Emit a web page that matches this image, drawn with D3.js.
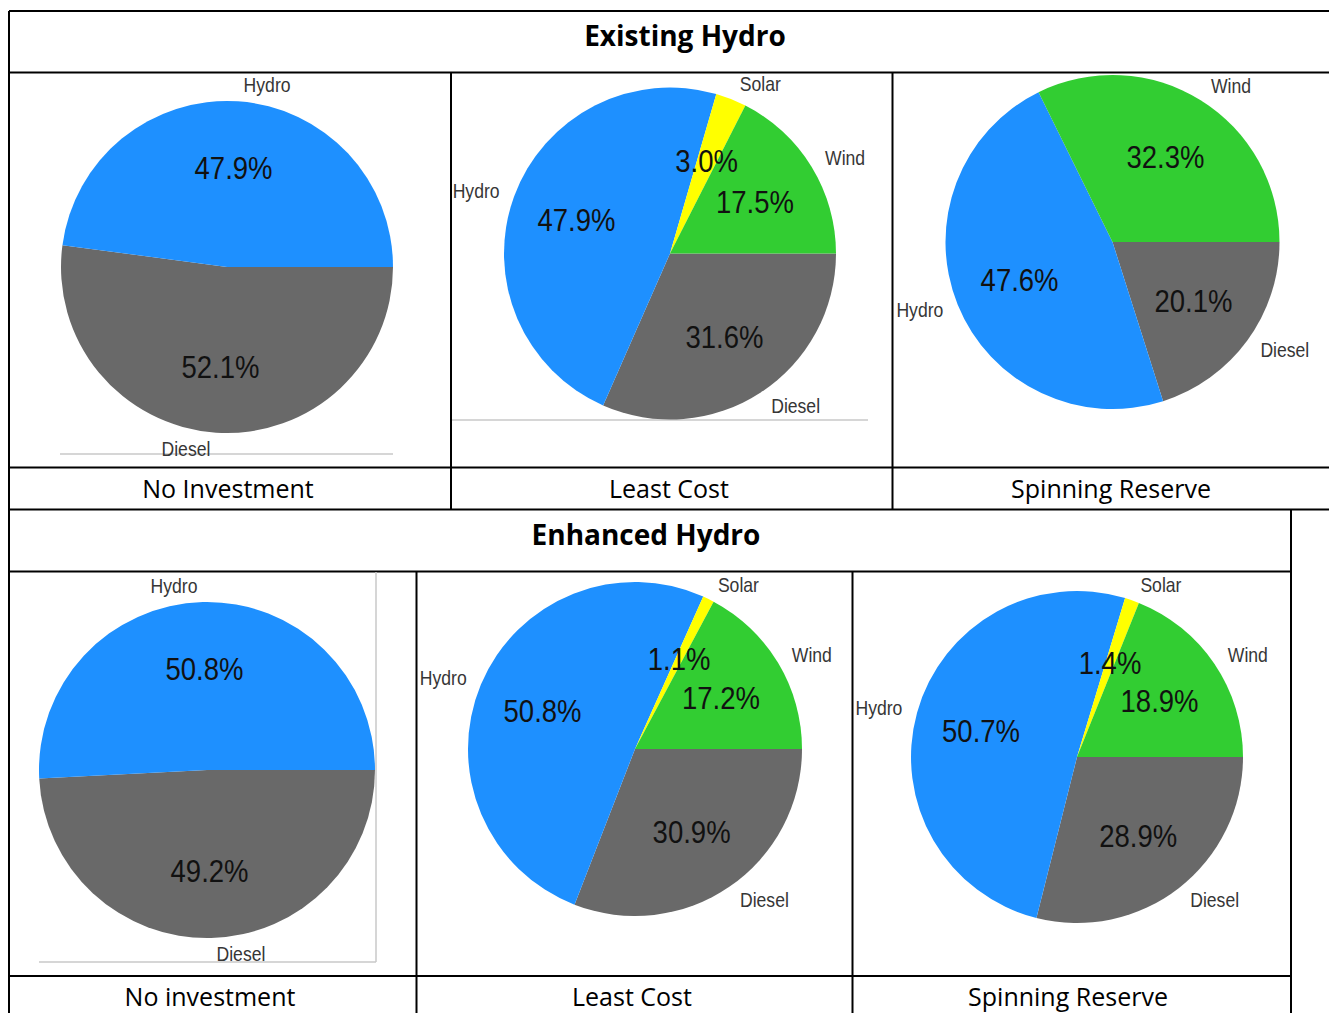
<!DOCTYPE html>
<html>
<head>
<meta charset="utf-8">
<script src="https://cdn.jsdelivr.net/npm/d3@7"></script>
<style>
  body { margin: 0; background: #fff; }
  svg { display: block; }
</style>
</head>
<body>
<svg id="chart" width="1329" height="1013"></svg>
<script>
// Generation mix shares (%), in drawing order starting at 3 o'clock, clockwise
const sources = ["Diesel", "Hydro", "Solar", "Wind"];
const existingNoInvestment = [52.1, 47.9, 0, 0];
const existingLeastCost    = [31.6, 47.9, 3.0, 17.5];
const existingSpinning     = [20.1, 47.6, 0, 32.3];
const enhancedNoInvestment = [49.2, 50.8, 0, 0];
const enhancedLeastCost    = [30.9, 50.8, 1.1, 17.2];
const enhancedSpinning     = [28.9, 50.7, 1.4, 18.9];

const sectionTitles    = ["Existing Hydro", "Enhanced Hydro"];
const captionsExisting = ["No Investment", "Least Cost", "Spinning Reserve"];
const captionsEnhanced = ["No investment", "Least Cost", "Spinning Reserve"];

const color = d3.scaleOrdinal()
  .domain(sources)
  .range(["#696969", "#1E90FF", "#FFFF00", "#32CD32"]);

const svg = d3.select("#chart");
const fmt = d3.format(".1f");

const LABEL_FONT = "'Liberation Sans', Arial, sans-serif";
const TABLE_FONT = "'Open Sans', 'Noto Sans', sans-serif";
const CAT_SCALE = 0.88;

// ---- Table grid -------------------------------------------------------
const grid = svg.append("g").attr("stroke", "#000").attr("stroke-width", 2);
const hLines = [
  [9, 1329, 11], [9, 1329, 72.5], [9, 1329, 467.5], [9, 1329, 509.5],
  [9, 1291, 571.5], [9, 1291, 976]
];
const vLines = [
  [9, 11, 1013], [451, 72.5, 509.5], [892.5, 72.5, 509.5],
  [416.5, 571.5, 1013], [852.5, 571.5, 1013], [1291, 509.5, 1013]
];
grid.selectAll("line.h").data(hLines).join("line").attr("class", "h")
  .attr("x1", d => d[0]).attr("x2", d => d[1]).attr("y1", d => d[2]).attr("y2", d => d[2]);
grid.selectAll("line.v").data(vLines).join("line").attr("class", "v")
  .attr("x1", d => d[0]).attr("x2", d => d[0]).attr("y1", d => d[1]).attr("y2", d => d[2]);

// Section titles
const titlePos = [[685, 35], [646, 534]];
svg.selectAll("text.section").data(sectionTitles).join("text")
  .attr("class", "section")
  .attr("x", (d, i) => titlePos[i][0]).attr("y", (d, i) => titlePos[i][1])
  .attr("text-anchor", "middle").attr("dominant-baseline", "central")
  .style("font-family", TABLE_FONT).style("font-weight", 700).style("font-size", "28px")
  .attr("fill", "#000").text(d => d);

// Scenario captions
const captionX = { top: [228, 669, 1111], bottom: [210, 632, 1068] };
svg.selectAll("text.cap-top").data(captionsExisting).join("text")
  .attr("class", "cap-top")
  .attr("x", (d, i) => captionX.top[i]).attr("y", 488)
  .attr("text-anchor", "middle").attr("dominant-baseline", "central")
  .style("font-family", TABLE_FONT).style("font-size", "25px")
  .attr("fill", "#000").text(d => d);
svg.selectAll("text.cap-bot").data(captionsEnhanced).join("text")
  .attr("class", "cap-bot")
  .attr("x", (d, i) => captionX.bottom[i]).attr("y", 996)
  .attr("text-anchor", "middle").attr("dominant-baseline", "central")
  .style("font-family", TABLE_FONT).style("font-size", "25px")
  .attr("fill", "#000").text(d => d);

// ---- Pie panels -------------------------------------------------------
const panels = [
  { values: existingNoInvestment, cx: 227,    cy: 267,   r: 166 },
  { values: existingLeastCost,    cx: 670,    cy: 253.5, r: 166 },
  { values: existingSpinning,     cx: 1112.5, cy: 242,   r: 167 },
  { values: enhancedNoInvestment, cx: 207,    cy: 770,   r: 168 },
  { values: enhancedLeastCost,    cx: 635,    cy: 749,   r: 167 },
  { values: enhancedSpinning,     cx: 1077,   cy: 757,   r: 166 }
];

// Faint frame edges left over from the embedded chart images
const frame = svg.append("g").attr("stroke", "#c8c8c8").attr("stroke-width", 1.5);
frame.append("line").attr("x1", 60).attr("x2", 393).attr("y1", 454).attr("y2", 454);
frame.append("line").attr("x1", 452).attr("x2", 868).attr("y1", 420).attr("y2", 420);
frame.append("line").attr("x1", 39).attr("x2", 376).attr("y1", 962).attr("y2", 962);
frame.append("line").attr("x1", 376).attr("x2", 376).attr("y1", 572).attr("y2", 962);

const pie = d3.pie()
  .sort(null)
  .value(d => d.value)
  .startAngle(Math.PI / 2)
  .endAngle(Math.PI / 2 + 2 * Math.PI);

panels.forEach(p => {
  const rows = sources.map((s, i) => ({ source: s, value: p.values[i] }))
    .filter(d => d.value > 0);
  const arcs = pie(rows);
  const arc = d3.arc().innerRadius(0).outerRadius(p.r);
  const labelArc = d3.arc().innerRadius(p.r * 0.6).outerRadius(p.r * 0.6);

  const g = svg.append("g").attr("transform", `translate(${p.cx},${p.cy})`);

  g.selectAll("path").data(arcs).join("path")
    .attr("d", arc)
    .attr("fill", d => color(d.data.source));

  // Percentage inside each slice (narrowed to a condensed look)
  g.selectAll("text.pct").data(arcs).join("text")
    .attr("class", "pct")
    .attr("transform", d => `translate(${labelArc.centroid(d)}) scale(0.86,1)`)
    .attr("text-anchor", "middle").attr("dominant-baseline", "central")
    .style("font-family", LABEL_FONT).style("font-size", "32px")
    .attr("fill", "#111")
    .text(d => fmt(d.data.value) + "%");

  // Category name outside the rim: the label box sits beside the point just
  // past the rim, pushed sideways by half its own width.
  g.selectAll("text.cat").data(arcs).join("text")
    .attr("class", "cat")
    .attr("text-anchor", "middle").attr("dominant-baseline", "central")
    .style("font-family", LABEL_FONT).style("font-size", "20px")
    .attr("fill", "#363636")
    .text(d => d.data.source)
    .attr("transform", function (d) {
      const a = (d.startAngle + d.endAngle) / 2;
      const s = Math.sin(a), c = Math.cos(a);
      const w = this.getComputedTextLength() * CAT_SCALE;
      const x = (p.r + 10) * s + Math.sign(s) * (w / 2 + 5);
      const y = -(p.r + 10) * c - 6 * c;
      return `translate(${x},${y}) scale(${CAT_SCALE},1)`;
    });
});
</script>
</body>
</html>
